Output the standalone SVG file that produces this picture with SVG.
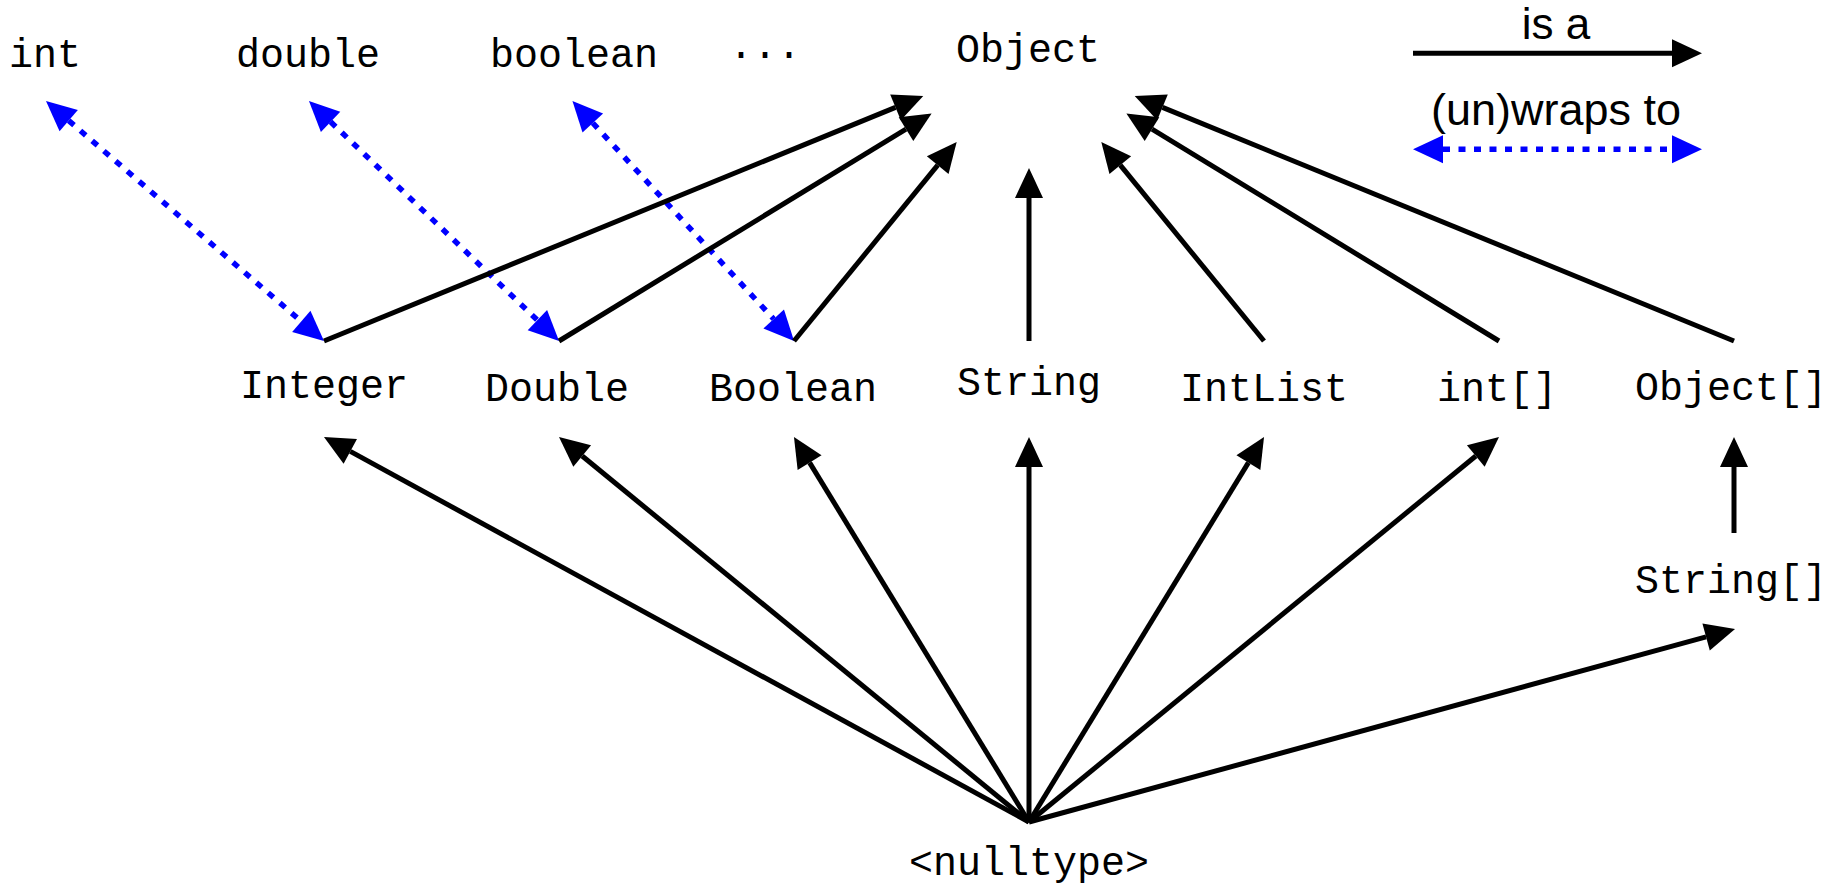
<svg xmlns="http://www.w3.org/2000/svg" width="1842" height="890" viewBox="0 0 1842 890">
<style>
.lbl{font-family:"Liberation Mono","DejaVu Sans Mono",monospace;font-size:40px;fill:#000;text-anchor:middle}
.leg{font-family:"Liberation Sans","Open Sans",sans-serif;font-size:44px;fill:#000;text-anchor:middle}
.isa{stroke:#000;stroke-width:5;fill:none;marker-end:url(#ah)}
.wrap{stroke:#0000ff;stroke-width:5.5;stroke-dasharray:7 8.5;fill:none;marker-start:url(#bh);marker-end:url(#bh)}
</style>
<defs>
<marker id="ah" markerUnits="userSpaceOnUse" orient="auto" refX="0" refY="0" markerWidth="32" markerHeight="32" overflow="visible">
<path d="M0,-14 L30,0 L0,14 z" fill="#000"/>
</marker>
<marker id="bh" markerUnits="userSpaceOnUse" orient="auto-start-reverse" refX="0" refY="0" markerWidth="32" markerHeight="32" overflow="visible">
<path d="M0,-14 L30,0 L0,14 z" fill="#0000ff"/>
</marker>
</defs>
<rect width="1842" height="890" fill="#fff"/>
<g id="connectors">
<line class="wrap" x1="68.7" y1="120.6" x2="301.3" y2="321.4"/>
<line class="wrap" x1="330.6" y1="121.8" x2="537.4" y2="320.2"/>
<line class="wrap" x1="592.8" y1="123.0" x2="773.7" y2="319.0"/>
<line class="isa" x1="324" y1="341" x2="895.5" y2="107.4"/>
<line class="isa" x1="559" y1="341" x2="906.0" y2="129.1"/>
<line class="isa" x1="794" y1="341" x2="937.7" y2="165.2"/>
<line class="isa" x1="1029" y1="341" x2="1029" y2="198"/>
<line class="isa" x1="1264" y1="341" x2="1120.3" y2="165.2"/>
<line class="isa" x1="1499" y1="341" x2="1152.0" y2="129.1"/>
<line class="isa" x1="1734" y1="341" x2="1162.5" y2="107.4"/>
<line class="isa" x1="1029" y1="822" x2="350.3" y2="451.4"/>
<line class="isa" x1="1029" y1="822" x2="582.2" y2="456.0"/>
<line class="isa" x1="1029" y1="822" x2="809.6" y2="462.6"/>
<line class="isa" x1="1029" y1="822" x2="1029" y2="467"/>
<line class="isa" x1="1029" y1="822" x2="1248.4" y2="462.6"/>
<line class="isa" x1="1029" y1="822" x2="1475.8" y2="456.0"/>
<line class="isa" x1="1029" y1="822" x2="1706.1" y2="636.9"/>
<line class="isa" x1="1734" y1="533" x2="1734" y2="467"/>
</g>
<g id="node-int"><text class="lbl" x="45" y="67">int</text></g>
<g id="node-double"><text class="lbl" x="308" y="67">double</text></g>
<g id="node-boolean"><text class="lbl" x="574" y="67">boolean</text></g>
<g id="node-dots"><text class="lbl" x="765" y="66">···</text></g>
<g id="node-Object"><text class="lbl" x="1028" y="62">Object</text></g>
<g id="node-Integer"><text class="lbl" x="324" y="398">Integer</text></g>
<g id="node-Double"><text class="lbl" x="557" y="401">Double</text></g>
<g id="node-Boolean"><text class="lbl" x="793" y="401">Boolean</text></g>
<g id="node-String"><text class="lbl" x="1029" y="395">String</text></g>
<g id="node-IntList"><text class="lbl" x="1264" y="401">IntList</text></g>
<g id="node-intarr"><text class="lbl" x="1497" y="401">int[]</text></g>
<g id="node-Objectarr"><text class="lbl" x="1731" y="400">Object[]</text></g>
<g id="node-Stringarr"><text class="lbl" x="1731" y="593">String[]</text></g>
<g id="node-nulltype"><text class="lbl" x="1029" y="875">&lt;nulltype&gt;</text></g>
<g id="legend">
<text class="leg" x="1556" y="39">is a</text>
<line class="isa" x1="1413" y1="53.3" x2="1672" y2="53.3"/>
<text class="leg" x="1556" y="125" textLength="250" lengthAdjust="spacingAndGlyphs">(un)wraps to</text>
<line class="wrap" x1="1443" y1="149.3" x2="1672" y2="149.3"/>
</g>
</svg>
